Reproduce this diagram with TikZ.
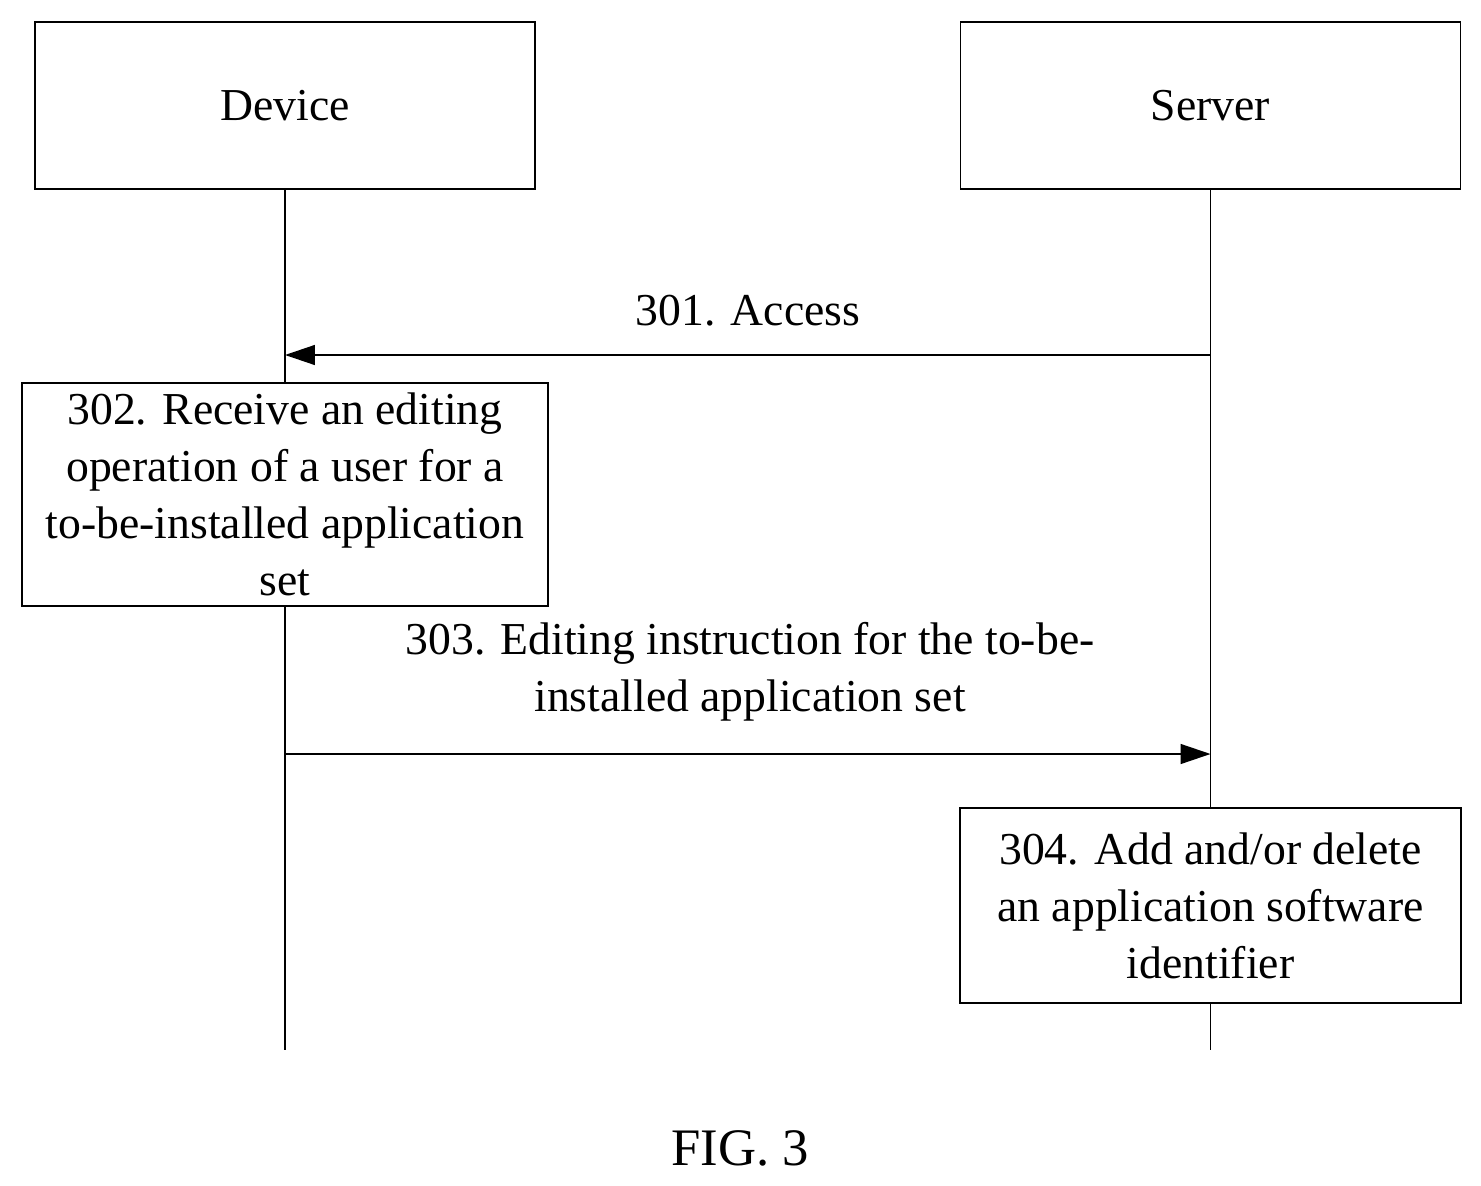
\documentclass[tikz,border=0pt]{standalone}
\usepackage{fontspec}
\setmainfont{Liberation Serif}
\usetikzlibrary{arrows.meta}
\tikzset{
  entity/.style={draw,thick,minimum width=10cm,minimum height=3.34cm,inner sep=0pt},
  action/.style={draw,thick,align=center,inner sep=0pt,font=\fontsize{26}{32.5}\selectfont},
  msg/.style={thick,-{Triangle[length=0.6cm,width=0.4cm]}},
  lbl/.style={align=center,font=\fontsize{26}{32.5}\selectfont}
}
\begin{document}
\begin{tikzpicture}[x=0.02cm,y=-0.02cm]
\useasboundingbox (0,0) rectangle (1481,1186);
% participants
\node[entity,font=\fontsize{26}{32}\selectfont] (dev) at (285,105.5) {Device};
\node[entity,font=\fontsize{26}{32}\selectfont] (srv) at (1210.5,105.5) {Server};
\coordinate (devend) at (285,1050);
\coordinate (srvend) at (1210.5,1050);
\draw[thick] (dev.south) -- (devend);
\draw[thick] (srv.south) -- (srvend);

% 301
\coordinate (a1) at (285,355);
\coordinate (b1) at (1210.5,355);
\draw[msg,{Triangle[length=0.6cm,width=0.4cm]}-] (a1) -- (b1);
\node[lbl] (l301) at (748,311) {301. Access};

% 302
\node[action,fill=white,minimum width=10.52cm,minimum height=4.46cm] (s302) at (285,494.5)
  {302. Receive an editing\\operation of a user for a\\to-be-installed application\\set};

% 303
\coordinate (a3) at (285,754);
\coordinate (b3) at (1210.5,754);
\draw[msg] (a3) -- (b3);
\node[lbl] (l303) at (750,672) {303. Editing instruction for the to-be-\\installed application set};

% 304
\node[action,fill=white,minimum width=10.02cm,minimum height=3.9cm] (s304) at (1210.5,905.5)
  {304. Add and/or delete\\an application software\\identifier};

\node[font=\fontsize{30}{36}\selectfont] (fig) at (740,1148) {FIG. 3};
\end{tikzpicture}
\end{document}
